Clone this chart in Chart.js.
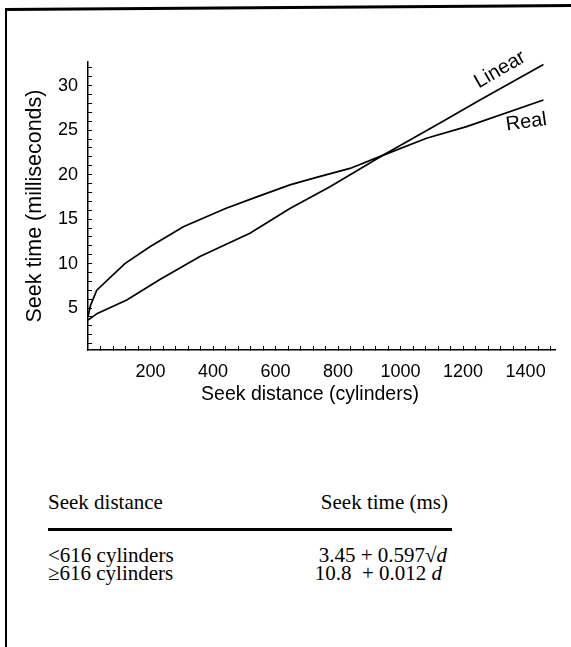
<!DOCTYPE html>
<html>
<head>
<meta charset="utf-8">
<script src="https://cdn.jsdelivr.net/npm/chart.js@4.4.1/dist/chart.umd.min.js"></script>
<style>
  html, body { margin: 0; padding: 0; background: #fff; }
  body { width: 571px; height: 647px; position: relative; overflow: hidden; color: #000; }
  #plot { position: absolute; left: 0; top: 0; }
  .frame-left { position: absolute; left: 5px; top: 8px; width: 2px; height: 639px; background: #000; }
  .frame-top { position: absolute; left: 5px; top: 8px; width: 566px; height: 2.5px; background: #000;
               transform-origin: 0 0; transform: rotate(-0.4deg); }
  .t { position: absolute; font-family: "Liberation Serif", "Times New Roman", serif; font-size: 21px;
       line-height: 24px; white-space: pre; }
  .rule { position: absolute; left: 48px; top: 528px; width: 404px; height: 2.5px; background: #000; }
</style>
</head>
<body>
<div class="frame-left"></div>
<div class="frame-top"></div>
<canvas id="plot" width="571" height="420"></canvas>

<div class="t" style="left:48px; top:490px;">Seek distance</div>
<div class="t" style="right:123px; top:490px;">Seek time (ms)</div>
<div class="rule"></div>
<div class="t" style="left:48px; top:543px;">&lt;616 cylinders</div>
<div class="t" style="right:124px; top:543px;">3.45 + 0.597√<i>d</i></div>
<div class="t" style="left:48px; top:561px;">≥616 cylinders</div>
<div class="t" style="right:129px; top:561px;">10.8  + 0.012 <i>d</i></div>

<script>
// values
const linearDist = [0, 30, 124, 230, 358, 518, 646, 774, 945, 1126, 1254, 1457];
const linearTime = [3.65, 4.4, 5.9, 8.2, 10.8, 13.4, 16.2, 18.65, 22.2, 25.8, 28.4, 32.4];
const realDist = [0, 8, 28, 118, 198, 305, 440, 540, 646, 731, 838, 945, 1083, 1211, 1457];
const realTime = [4.0, 5.3, 7.0, 10.0, 11.9, 14.15, 16.2, 17.5, 18.85, 19.7, 20.7, 22.2, 24.1, 25.4, 28.4];

const xTickLabels = [200, 400, 600, 800, 1000, 1200, 1400];
const yTickLabels = [5, 10, 15, 20, 25, 30];

// minor ticks: every 40 cylinders, every 1 ms
const xMinor = [];
for (let v = 40; v <= 1480; v += 40) xMinor.push(v);
const yMinor = [];
for (let v = 1; v <= 32; v++) yMinor.push(v);

Chart.defaults.font.family = '"Liberation Sans", Arial, sans-serif';
Chart.defaults.color = '#000';

const toPoints = (xs, ys) => xs.map((d, i) => ({ x: d, y: ys[i] }));

// curve names + x title drawn on top
const annotate = {
    id: 'annotate',
    afterDraw(chart) {
        const { ctx, scales: { x, y } } = chart;
        ctx.save();
        ctx.fillStyle = '#000';
        ctx.textAlign = 'center';
        ctx.textBaseline = 'middle';
        ctx.font = '20px "Liberation Sans", Arial, sans-serif';

        ctx.save();
        ctx.translate(x.getPixelForValue(1318), y.getPixelForValue(31.8));
        ctx.rotate(-30 * Math.PI / 180);
        ctx.fillText('Linear', 0, 0);
        ctx.restore();

        ctx.save();
        ctx.translate(x.getPixelForValue(1402), y.getPixelForValue(25.9));
        ctx.rotate(-8 * Math.PI / 180);
        ctx.fillText('Real', 0, 0);
        ctx.restore();

        ctx.font = '19.5px "Liberation Sans", Arial, sans-serif';
        ctx.fillText('Seek distance (cylinders)', 310, 395);
        ctx.restore();
    }
};

new Chart(document.getElementById('plot'), {
    type: 'line',
    data: {
        datasets: [
            { label: 'Linear', data: toPoints(linearDist, linearTime) },
            { label: 'Real', data: toPoints(realDist, realTime) }
        ]
    },
    options: {
        responsive: false,
        animation: false,
        layout: { padding: { top: 62, right: 16, left: 0, bottom: 0 } },
        elements: {
            line: { borderColor: '#000', borderWidth: 1.7, tension: 0, fill: false },
            point: { radius: 0 }
        },
        plugins: { legend: { display: false }, tooltip: { enabled: false } },
        scales: {
            x: {
                type: 'linear',
                min: 0,
                max: 1494,
                afterFit: s => { s.height = 70; },
                afterBuildTicks: s => { s.ticks = xMinor.map(v => ({ value: v })); },
                border: { display: true, color: '#000', width: 1.5 },
                grid: { drawOnChartArea: false, tickLength: -4, tickColor: '#000', tickWidth: 1 },
                ticks: {
                    autoSkip: false,
                    maxRotation: 0,
                    padding: 15,
                    font: { size: 18 },
                    callback: v => xTickLabels.includes(v) ? String(v) : ''
                }
            },
            y: {
                type: 'linear',
                min: 0.28,
                max: 32.67,
                afterFit: s => { s.width = 88; },
                afterBuildTicks: s => { s.ticks = yMinor.map(v => ({ value: v })); },
                border: { display: true, color: '#000', width: 1.5 },
                grid: { drawOnChartArea: false, tickLength: -4, tickColor: '#000', tickWidth: 1 },
                title: {
                    display: true,
                    text: 'Seek time (milliseconds)',
                    font: { size: 21.5 },
                    padding: { top: 22, bottom: 0 }
                },
                ticks: {
                    autoSkip: false,
                    padding: 14,
                    font: { size: 18 },
                    callback: v => yTickLabels.includes(v) ? String(v) : ''
                }
            }
        }
    },
    plugins: [annotate]
});
</script>
</body>
</html>
